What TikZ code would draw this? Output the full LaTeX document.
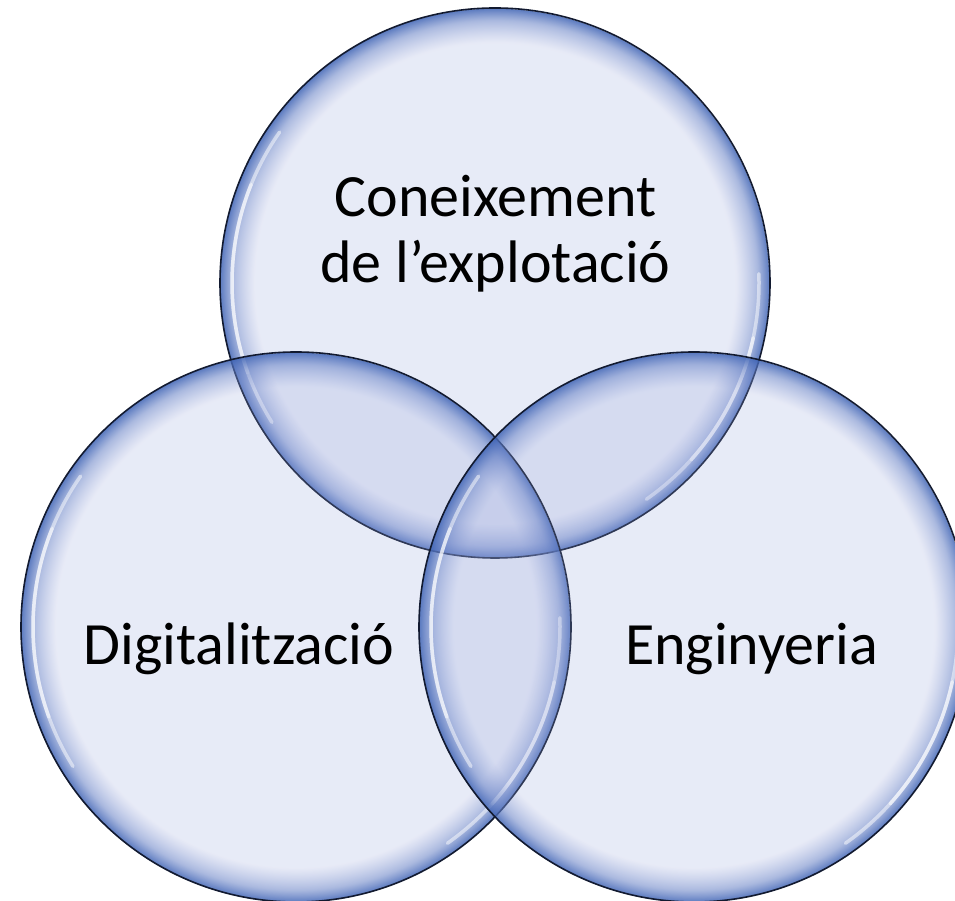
\documentclass[tikz,border=0pt]{standalone}
\usepackage{fontspec}
\setmainfont{Carlito}
\usetikzlibrary{fadings}
\definecolor{basecol}{RGB}{150,164,219}
\definecolor{rimcol}{RGB}{66,102,182}
\definecolor{edgecol}{RGB}{18,26,48}
\pgfdeclareradialshading{ringcolor}{\pgfpoint{0bp}{0bp}}{color(0bp)=(basecol); color(21.8bp)=(basecol); color(23.8bp)=(rimcol!55!basecol); color(25bp)=(rimcol); color(50bp)=(rimcol)}
\pgfdeclareradialshading{ringalpha}{\pgfpoint{0bp}{0bp}}{color(0bp)=(white!22!black); color(21.8bp)=(white!22!black); color(23.8bp)=(white!55!black); color(25bp)=(white!90!black); color(50bp)=(white!90!black)}
\pgfdeclarefading{ringfade}{\pgfuseshading{ringalpha}}
\begin{document}
\begin{tikzpicture}[x=1pt,y=1pt,
  bubble/.style={shading=ringcolor, path fading=ringfade},
  rimline/.style={draw=edgecol, line width=1.6pt},
  glint/.style={draw=white, line width=3.5pt, opacity=0.5, line cap=round},
  lbl/.style={font=\fontsize{60}{66}\selectfont, text=black, inner sep=0pt}]
\useasboundingbox (0,0) rectangle (955,901);
\fill[white] (0,0) rectangle (955,901);
\coordinate (ct) at (495,618);
\coordinate (cl) at (296,274);
\coordinate (cr) at (694,274);
\foreach \c in {ct,cl,cr}{
  \shade[bubble] (\c) circle (275);
  \draw[glint] (\c) ++(145:263) arc (145:212:263);
  \draw[glint] (\c) ++(158:263) arc (158:200:263);
  \draw[glint] (\c) ++(-55:264) arc (-55:2:264);
  \draw[glint] (\c) ++(-42:264) arc (-42:-12:264);
  \draw[rimline] (\c) circle (275);
}
\node[lbl, align=center, anchor=north] (con) at (495.5,726) {Coneixement\\de l’explotació};
\node[lbl, anchor=base] (dig) at (239,236) {Digitalització};
\node[lbl, anchor=base] (eng) at (751.5,236) {Enginyeria};
\end{tikzpicture}
\end{document}
